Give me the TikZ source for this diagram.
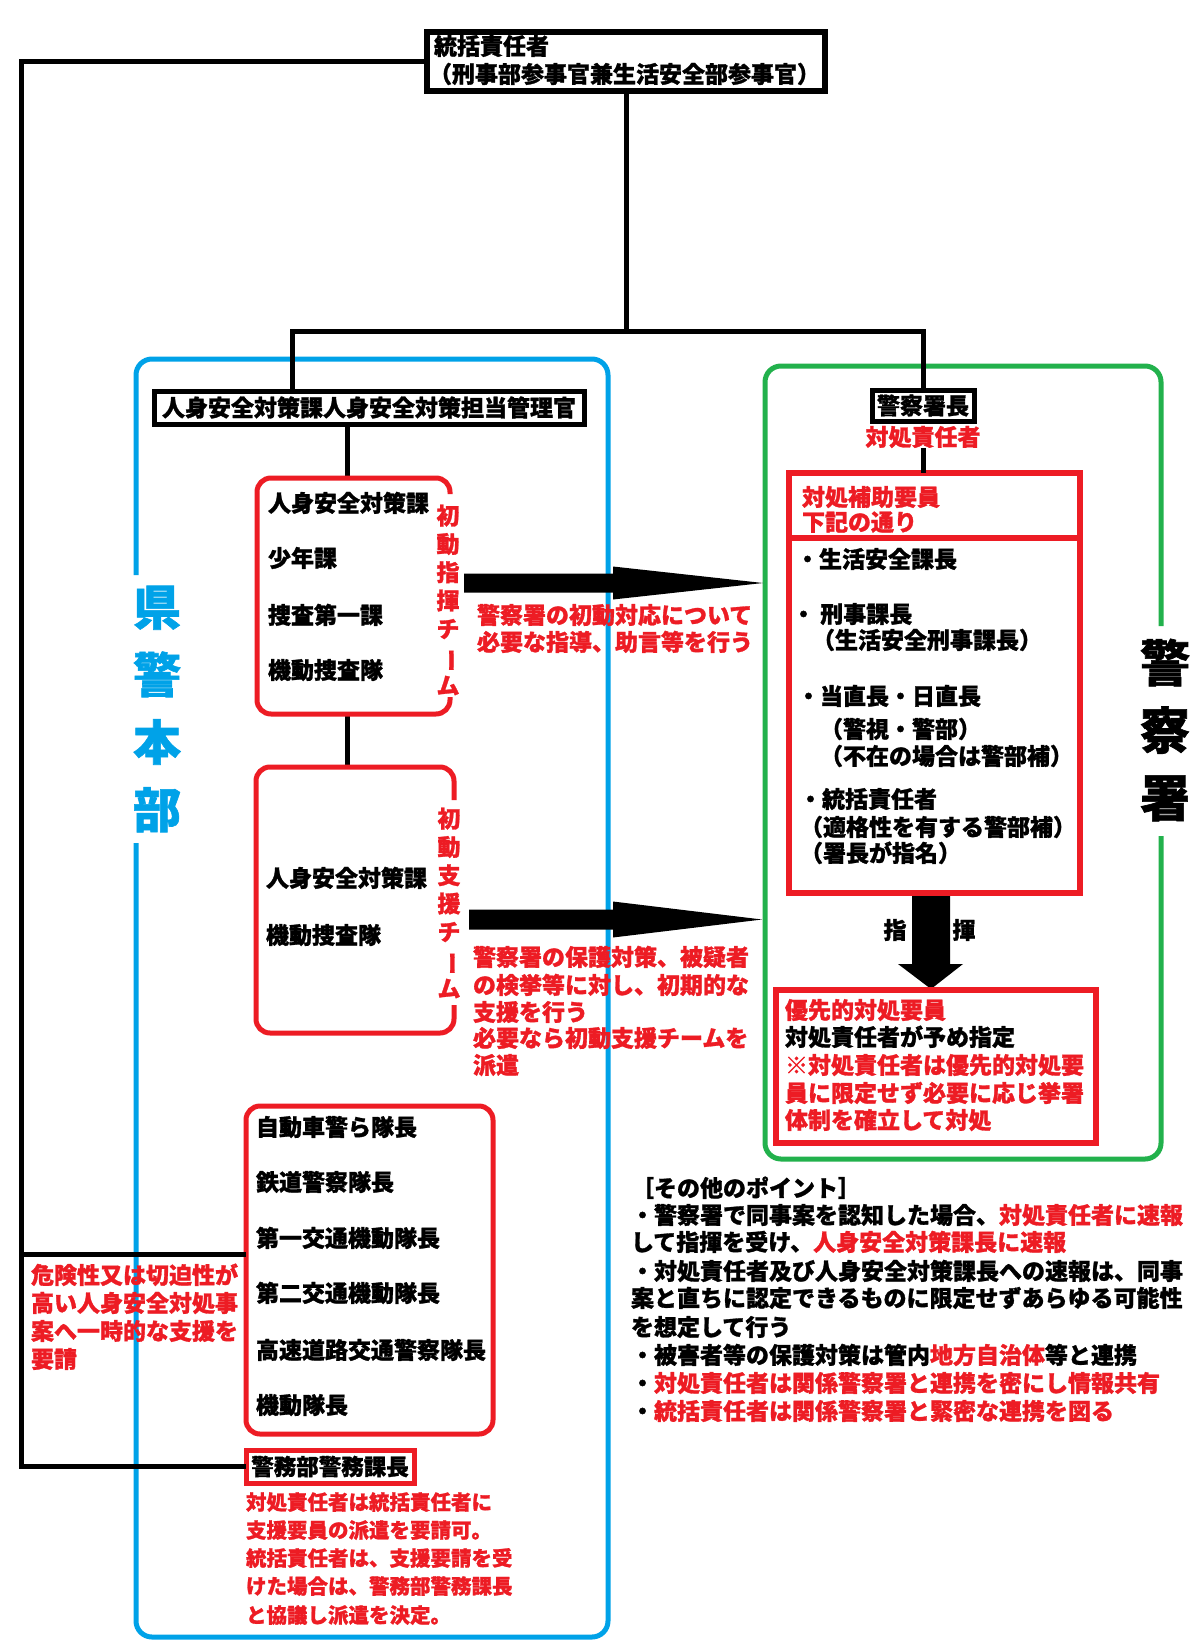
\documentclass[tikz,border=0pt]{standalone}
\usepackage{fontspec}
\usepackage{graphicx}
\setmainfont{Noto Sans CJK JP}[BoldFeatures={FakeBold=1.2}]
\definecolor{pred}{HTML}{ED1C24}
\definecolor{pblue}{HTML}{00A2E8}
\definecolor{pgreen}{HTML}{22B14C}
\newcommand{\tatebar}{\rotatebox[origin=c]{-90}{ー}}
\tikzset{
  conn/.style={draw=black, line width=5pt},
  bframe/.style={draw=black, line width=5pt, inner sep=0pt, outer sep=0pt, anchor=north west},
  rframe/.style={draw=pred, line width=5pt, inner sep=0pt, outer sep=0pt, anchor=north west},
  jf/.style={font=\bfseries\fontsize{23}{28}\selectfont},
  lt/.style={jf, inner sep=0pt, outer sep=0pt, anchor=base west, yshift=-8.7pt},
  lr/.style={lt, text=pred},
  ls/.style={inner sep=0pt, outer sep=0pt, anchor=base west, yshift=-7.8pt, text=pred, font=\bfseries\fontsize{20.5}{26}\selectfont},
  vt/.style={inner sep=0pt, align=center, text=pred, font=\bfseries\fontsize{23}{28.3}\selectfont},
  bigv/.style={inner sep=0pt, align=center, font=\bfseries\fontsize{48}{67.5}\selectfont},
}
\begin{document}
\begin{tikzpicture}[x=1pt,y=-1pt]
\useasboundingbox (0,0) rectangle (1200,1643);
\fill[white] (0,0) rectangle (1200,1643);

% region frames
\draw[pblue, line width=5pt, rounded corners=16pt] (136,575) -- (136,359) -- (608,359) -- (608,1637) -- (136,1637) -- (136,843);
\draw[pgreen, line width=5pt, rounded corners=16pt] (1161,626) -- (1161,366) -- (765,366) -- (765,1159) -- (1161,1159) -- (1161,836);
\node[bigv, text=pblue] (ken) at (157,709) {県\\警\\本\\部};
\node[bigv, font=\bfseries\fontsize{50}{67.5}\selectfont] (sho) at (1165,730) {警\\察\\署};

% top box
\node[bframe, line width=6pt, minimum width=398pt, minimum height=59pt] (top) at (427,32.5) {};
\node[lt] (top1) at (434,46) {統括責任者};
\node[lt] (top2) at (429,74) {（刑事部参事官兼生活安全部参事官）};

% second level boxes
\node[bframe, jf, minimum width=430pt, minimum height=33pt] (mgr) at (154,391) {人身安全対策課人身安全対策担当管理官};
\node[bframe, jf, minimum width=102pt, minimum height=31pt] (chief) at (872,390) {警察署長};
\node[jf, text=pred, inner sep=0pt] (tsr) at (923,437) {対処責任者};

% boxes lower left
\node[rframe, rounded corners=14pt, minimum width=247pt, minimum height=328pt] (rb3) at (246,1106) {};
\node[rframe, font=\bfseries\fontsize{22.5}{27}\selectfont, minimum width=168pt, minimum height=33pt] (kb) at (246,1450) {警務部警務課長};

% connectors
\coordinate (br) at (626,331);
\draw[conn] (top.south) -- (br);
\draw[conn] (mgr.north -| 292,0) -- (292,331) -- (chief.north |- br) -- (chief.north);
\draw[conn] (top.west) -| (kb.west -| 21,0) -- (kb.west);
\coordinate (jL) at (21,1254);
\draw[conn] (jL) -- (jL -| rb3.west);
\coordinate (rb1n) at (347,478);
\coordinate (rb1s) at (347,714);
\coordinate (rb2n) at (347,767);
\draw[conn] (mgr.south -| rb1n) -- (rb1n);
\draw[conn] (rb1s) -- (rb2n);

% red team boxes
\draw[pred, line width=5pt, rounded corners=14pt] (450,494) -- (450,478) -- (257,478) -- (257,714) -- (450,714) -- (450,697);
\draw[pred, line width=5pt, rounded corners=14pt] (454,800) -- (454,767) -- (256,767) -- (256,1033) -- (454,1033) -- (454,1005);
\node[vt] (v1) at (448,600) {初\\動\\指\\揮\\チ\\\tatebar\\ム};
\node[vt] (v2) at (449,903) {初\\動\\支\\援\\チ\\\tatebar\\ム};

\node[lt] (b1a) at (268,503) {人身安全対策課};
\node[lt] (b1b) at (268,558) {少年課};
\node[lt] (b1c) at (268,615) {捜査第一課};
\node[lt] (b1d) at (268,670) {機動捜査隊};
\node[lt] (b2a) at (266,878) {人身安全対策課};
\node[lt] (b2b) at (266,935) {機動捜査隊};

% fat arrows
\coordinate (a1s) at (464,583);
\coordinate (a1e) at (763,583);
\fill (a1s) -- (464,573.5) -- (613,573.5) -- (613,566.5) -- (a1e) -- (613,599.5) -- (613,592.5) -- (464,592.5) -- cycle;
\coordinate (a2s) at (469,919.5);
\coordinate (a2e) at (762,919.5);
\fill (a2s) -- (469,909.5) -- (613,909.5) -- (613,901.5) -- (a2e) -- (613,937.5) -- (613,929.5) -- (469,929.5) -- cycle;

\node[lr] (m1a) at (477,615) {警察署の初動対応について};
\node[lr] (m1b) at (477,642) {必要な指導、助言等を行う};
\node[lr] (m2a) at (473,957) {警察署の保護対策、被疑者};
\node[lr] (m2b) at (473,985) {の検挙等に対し、初期的な};
\node[lr] (m2c) at (473,1012) {支援を行う};
\node[lr] (m2d) at (473,1038) {必要なら初動支援チームを};
\node[lr] (m2e) at (473,1065) {派遣};

% police station side
\node[rframe, line width=6pt, minimum width=291pt, minimum height=420pt] (tbox) at (789,473) {};
\draw[pred, line width=6pt] (tbox.west |- 0,538) -- (tbox.east |- 0,538);
\draw[conn] (tsr.south) -- (tsr.south |- tbox.north);
\node[lr] (h1) at (802,497) {対処補助要員};
\node[lr] (h2) at (802,522) {下記の通り};
\node[lt] (s1) at (796,559) {・生活安全課長};
\node[lt] (s2) at (792,614) {・ 刑事課長};
\node[lt] (s3) at (812,640) {（生活安全刑事課長）};
\node[lt] (s4) at (797,696) {・当直長・日直長};
\node[lt] (s5) at (820,729) {（警視・警部）};
\node[lt] (s6) at (820,756) {（不在の場合は警部補）};
\node[lt] (s7) at (799,799) {・統括責任者};
\node[lt] (s8) at (800,827) {（適格性を有する警部補）};
\node[lt] (s9) at (800,853) {（署長が指名）};

\coordinate (d1s) at (931,896);
\coordinate (d1e) at (931,989);
\fill (d1s) -- (912,896) -- (912,964) -- (898,964) -- (d1e) -- (963,964) -- (950,964) -- (950,896) -- cycle;
\node[jf, inner sep=0pt] (k1) at (895,930) {指};
\node[jf, inner sep=0pt] (k2) at (964,930) {揮};

\node[rframe, line width=6pt, minimum width=320pt, minimum height=153pt] (prio) at (776,990) {};
\node[lr] (q1) at (785,1010) {優先的対処要員};
\node[lt] (q2) at (785,1037) {対処責任者が予め指定};
\node[lr] (q3) at (785,1065) {※対処責任者は優先的対処要};
\node[lr] (q4) at (785,1093) {員に限定せず必要に応じ挙署};
\node[lr] (q5) at (785,1120) {体制を確立して対処};

% lower left lists
\node[lt] (r1) at (256,1127) {自動車警ら隊長};
\node[lt] (r2) at (256,1182) {鉄道警察隊長};
\node[lt] (r3) at (256,1238) {第一交通機動隊長};
\node[lt] (r4) at (256,1293) {第二交通機動隊長};
\node[lt] (r5) at (256,1350) {高速道路交通警察隊長};
\node[lt] (r6) at (256,1405) {機動隊長};

\node[lr] (x1) at (31,1275) {危険性又は切迫性が};
\node[lr] (x2) at (31,1303) {高い人身安全対処事};
\node[lr] (x3) at (31,1331) {案へ一時的な支援を};
\node[lr] (x4) at (31,1359) {要請};

\node[ls] (y1) at (246,1502) {対処責任者は統括責任者に};
\node[ls] (y2) at (246,1530) {支援要員の派遣を要請可。};
\node[ls] (y3) at (246,1558) {統括責任者は、支援要請を受};
\node[ls] (y4) at (246,1586) {けた場合は、警務部警務課長};
\node[ls] (y5) at (246,1615) {と協議し派遣を決定。};

% other points
\node[lt] (p1) at (631,1188) {［その他のポイント］};
\node[lt] (p2) at (631,1215) {・警察署で同事案を認知した場合、\textcolor{pred}{対処責任者に速報}};
\node[lt] (p3) at (631,1242) {して指揮を受け、\textcolor{pred}{人身安全対策課長に速報}};
\node[lt] (p4) at (631,1271) {・対処責任者及び人身安全対策課長への速報は、同事};
\node[lt] (p5) at (631,1298) {案と直ちに認定できるものに限定せずあらゆる可能性};
\node[lt] (p6) at (631,1327) {を想定して行う};
\node[lt] (p7) at (631,1355) {・被害者等の保護対策は管内\textcolor{pred}{地方自治体}等と連携};
\node[lt] (p8) at (631,1383) {・\textcolor{pred}{対処責任者は関係警察署と連携を密にし情報共有}};
\node[lt] (p9) at (631,1411) {・\textcolor{pred}{統括責任者は関係警察署と緊密な連携を図る}};
\end{tikzpicture}
\end{document}
